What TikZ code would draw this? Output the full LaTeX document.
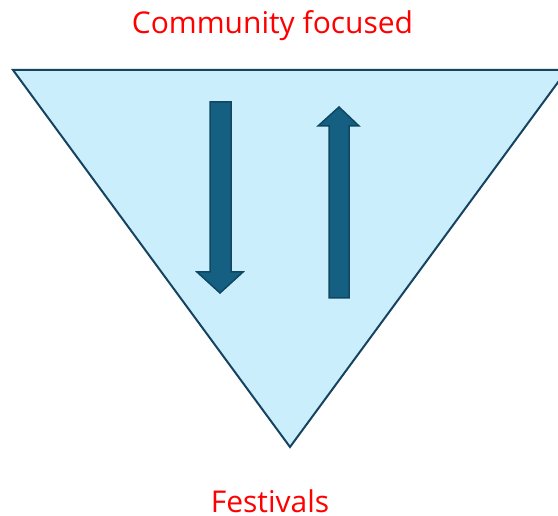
\documentclass[tikz,border=0pt]{standalone}
\usepackage{fontspec}
\setmainfont{Open Sans}
\definecolor{funnelfill}{HTML}{CAEEFB}
\definecolor{funnelline}{HTML}{154360}
\definecolor{arrowfill}{HTML}{156082}
\definecolor{arrowline}{HTML}{0F4761}
\tikzset{
  label text/.style={text=red,font=\fontsize{30}{36}\selectfont,inner sep=0pt},
  flow arrow/.style={fill=arrowfill,draw=arrowline,line width=1.5pt,line join=miter}
}
\begin{document}
\begin{tikzpicture}[x=1pt,y=-1pt]
  \useasboundingbox (0,0) rectangle (558,516);
  %triangle
  \begin{scope}
    \clip (0,0) rectangle (558,516);
    \draw[funnelline,fill=funnelfill,line width=2pt,line join=miter] (13,70) -- (567,70) -- (290,447) -- cycle;
  \end{scope}

  %arrows
  %down
  \draw[flow arrow] (210,102) -- (231,102) -- (231,272) -- (243,272) -- (220,293) -- (197,272) -- (210,272) -- cycle;
  %up
  \draw[flow arrow] (329,298) -- (349,298) -- (349,126) -- (359,126) -- (339,107) -- (318,126) -- (329,126) -- cycle;

  %labels
  \node[label text,anchor=base] (top) at (272.5,34) {Community focused};
  \node[label text,anchor=base] (bottom) at (270,512) {Festivals};
\end{tikzpicture}
\end{document}
